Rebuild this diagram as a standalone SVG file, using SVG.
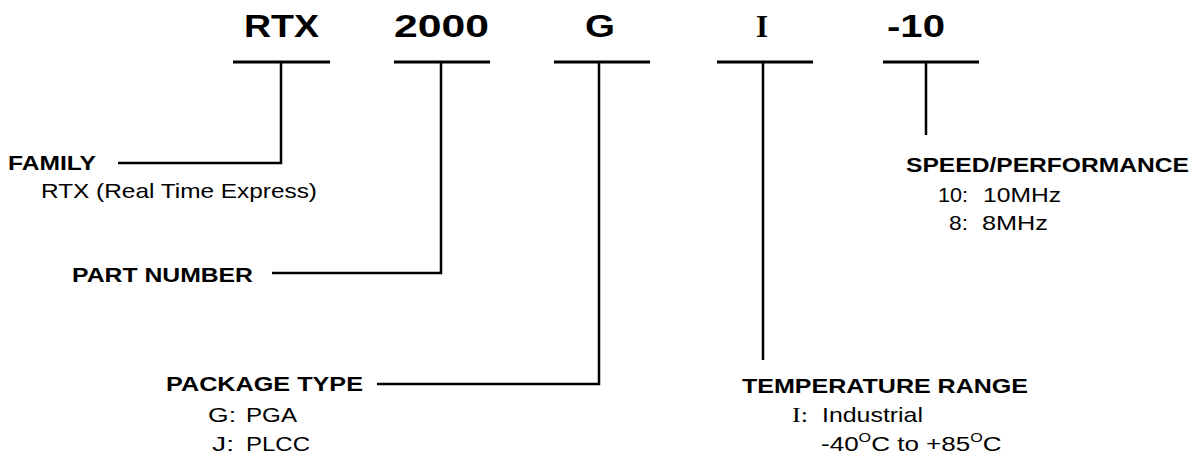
<svg xmlns="http://www.w3.org/2000/svg" width="1194" height="457" viewBox="0 0 1194 457">
  <style>
    .code { font-family: "Liberation Sans", Arial, sans-serif; font-weight: bold; font-size: 31px; fill: #000; }
    .codeserif { font-family: "Liberation Serif", "Times New Roman", serif; font-weight: bold; font-size: 31px; fill: #000; }
    .title { font-family: "Liberation Sans", Arial, sans-serif; font-weight: bold; font-size: 21px; fill: #000; }
    .desc { font-family: "Liberation Sans", Arial, sans-serif; font-size: 21px; fill: #000; }
    .serif { font-family: "Liberation Serif", "Times New Roman", serif; font-size: 22px; fill: #000; }
    .bar { stroke: #000; stroke-width: 3; fill: none; }
    .lead { stroke: #000; stroke-width: 2.5; fill: none; }
  </style>
  <rect width="1194" height="457" fill="#fff"/>

  <g id="connectors">
    <line class="bar" x1="233" y1="62" x2="330" y2="62"/>
    <line class="bar" x1="394" y1="62" x2="490" y2="62"/>
    <line class="bar" x1="554" y1="62" x2="650" y2="62"/>
    <line class="bar" x1="717" y1="62" x2="813" y2="62"/>
    <line class="bar" x1="883" y1="62" x2="979" y2="62"/>
    <path class="lead" d="M281 62 V163 H118"/>
    <path class="lead" d="M441 62 V273 H272"/>
    <path class="lead" d="M599 62 V384 H377"/>
    <path class="lead" d="M763 62 V360"/>
    <path class="lead" d="M926 62 V135"/>
  </g>

  <g id="code-rtx"><text class="code" x="244" y="37" textLength="75" lengthAdjust="spacingAndGlyphs">RTX</text></g>
  <g id="code-2000"><text class="code" x="394" y="37" textLength="95" lengthAdjust="spacingAndGlyphs">2000</text></g>
  <g id="code-g"><text class="code" x="585" y="37" textLength="30" lengthAdjust="spacingAndGlyphs">G</text></g>
  <g id="code-i"><text class="codeserif" x="756" y="37">I</text></g>
  <g id="code-10"><text class="code" x="887" y="37" textLength="58" lengthAdjust="spacingAndGlyphs">-10</text></g>

  <g id="family">
    <text class="title" x="8" y="170" textLength="88" lengthAdjust="spacingAndGlyphs">FAMILY</text>
    <text class="desc" x="41" y="198" textLength="276" lengthAdjust="spacingAndGlyphs">RTX (Real Time Express)</text>
  </g>

  <g id="part-number">
    <text class="title" x="72" y="282" textLength="181" lengthAdjust="spacingAndGlyphs">PART NUMBER</text>
  </g>

  <g id="package-type">
    <text class="title" x="166" y="391" textLength="197" lengthAdjust="spacingAndGlyphs">PACKAGE TYPE</text>
    <text class="desc" x="208" y="422" textLength="28" lengthAdjust="spacingAndGlyphs">G:</text>
    <text class="desc" x="246" y="422" textLength="51" lengthAdjust="spacingAndGlyphs">PGA</text>
    <text class="desc" x="212" y="451" textLength="22" lengthAdjust="spacingAndGlyphs">J:</text>
    <text class="desc" x="246" y="451" textLength="64" lengthAdjust="spacingAndGlyphs">PLCC</text>
  </g>

  <g id="temperature-range">
    <text class="title" x="742" y="393" textLength="286" lengthAdjust="spacingAndGlyphs">TEMPERATURE RANGE</text>
    <text class="serif" x="792" y="422" textLength="16" lengthAdjust="spacingAndGlyphs">I:</text>
    <text class="desc" x="822" y="422" textLength="101" lengthAdjust="spacingAndGlyphs">Industrial</text>
    <g transform="translate(821,451) scale(1.24,1)">
      <text class="desc" x="0" y="0">-40<tspan font-size="13" dy="-9">O</tspan><tspan dy="9">C to +85</tspan><tspan font-size="13" dy="-9">O</tspan><tspan dy="9">C</tspan></text>
    </g>
  </g>

  <g id="speed-performance">
    <text class="title" x="906" y="172" textLength="283" lengthAdjust="spacingAndGlyphs">SPEED/PERFORMANCE</text>
    <text class="desc" x="938" y="202" textLength="30" lengthAdjust="spacingAndGlyphs">10:</text>
    <text class="desc" x="983" y="202" textLength="78" lengthAdjust="spacingAndGlyphs">10MHz</text>
    <text class="desc" x="949" y="230" textLength="19" lengthAdjust="spacingAndGlyphs">8:</text>
    <text class="desc" x="982" y="230" textLength="66" lengthAdjust="spacingAndGlyphs">8MHz</text>
  </g>
</svg>
